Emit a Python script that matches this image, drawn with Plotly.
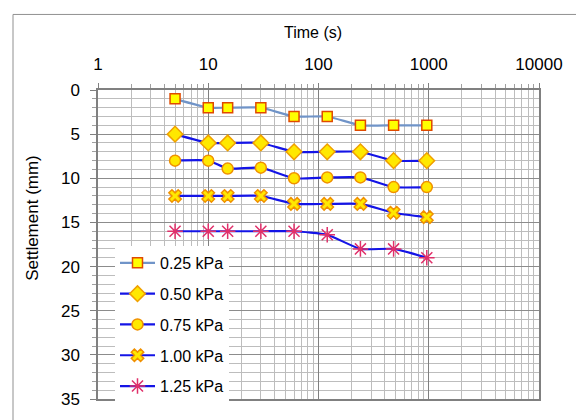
import plotly.graph_objects as go

time_s = [5, 10, 15, 30, 60, 120, 240, 480, 960]
s_025 = [1, 2, 2, 2, 3, 3, 4, 4, 4]
s_050 = [5, 6, 6, 6, 7, 7, 7, 8, 8]
s_075 = [8, 8, 8.9, 8.8, 10, 9.9, 9.9, 11, 11]
s_100 = [12, 12, 12, 12, 12.9, 12.9, 12.9, 13.9, 14.4]
s_125 = [16, 16, 16, 16, 16, 16.4, 18, 18, 19]
names = ["0.25 kPa", "0.50 kPa", "0.75 kPa", "1.00 kPa", "1.25 kPa"]
x_tickvals = [1, 10, 100, 1000, 10000]
x_ticktext = ["1", "10", "100", "1000", "10000"]

series = [s_025, s_050, s_075, s_100, s_125]
line_colors = ["#7094C8", "#1414E6", "#1414E6", "#1414E6", "#1414E6"]
symbols = ["square", "diamond", "circle", "x", "asterisk-open"]
msizes = [10, 12, 11, 11, 13]
mfill = ["#FFFF00", "#FFE800", "#FFE800", "#FFE800", "#E0306A"]
medge = ["#E04A00", "#F0A000", "#F09000", "#F09000", "#E0306A"]

FONT = "Liberation Sans, Arial, sans-serif"
fig = go.Figure()
for i, (ys, nm) in enumerate(zip(series, names)):
    fig.add_trace(go.Scatter(
        x=time_s, y=ys, name=nm, mode="lines+markers",
        legendgroup=nm,
        line=dict(color=line_colors[i], width=2.2, shape="spline", smoothing=0.5),
        marker=dict(symbol=symbols[i], size=msizes[i], color=mfill[i],
                    line=dict(color=medge[i], width=1.5)),
    ))

minor_x = [m * 10 ** d for d in range(0, 4) for m in range(2, 10)]

fig.update_xaxes(
    type="log", side="top", range=[0, 4],
    tickvals=x_tickvals, ticktext=x_ticktext,
    tickfont=dict(family=FONT, size=17, color="#000"),
    ticks="outside", ticklen=5, tickcolor="#808080",
    ticklabelstandoff=6,
    showgrid=True, gridcolor="#808080", gridwidth=1,
    minor=dict(tickvals=minor_x, showgrid=True, gridcolor="#BDBDBD",
               ticks="outside", ticklen=4, tickcolor="#A0A0A0"),
    showline=True, linecolor="#808080", linewidth=1.5, mirror=True,
    zeroline=False,
)
fig.update_yaxes(
    range=[35, 0], dtick=5, tick0=0,
    tickfont=dict(family=FONT, size=17, color="#000"),
    ticks="outside", ticklen=6, tickcolor="#808080",
    ticklabelstandoff=7,
    showgrid=True, gridcolor="#8C8C8C", gridwidth=1,
    minor=dict(dtick=1, showgrid=True, gridcolor="#BDBDBD",
               ticks="outside", ticklen=4, tickcolor="#A0A0A0"),
    showline=True, linecolor="#808080", linewidth=1.5, mirror=True,
    zeroline=False,
)

fig.add_annotation(text="Time (s)", xref="paper", yref="paper",
                   x=(313 - 98) / 441, y=(409 - 31) / 319, showarrow=False,
                   font=dict(family=FONT, size=16, color="#000"),
                   xanchor="center", yanchor="middle")
fig.add_annotation(text="Settlement (mm)", xref="paper", yref="paper",
                   x=(33 - 98) / 441, y=(409 - 222) / 319, showarrow=False,
                   textangle=-90,
                   font=dict(family=FONT, size=17, color="#000"),
                   xanchor="center", yanchor="middle")

fig.add_shape(type="rect", xref="paper", yref="paper",
              x0=(13 - 98) / 441, y0=-0.2, x1=1.2, y1=(409 - 12) / 319,
              line=dict(color="#909090", width=1), fillcolor="rgba(0,0,0,0)",
              layer="below")

fig.update_layout(
    width=576, height=420,
    margin=dict(l=98, r=37, t=90, b=11),
    paper_bgcolor="white", plot_bgcolor="white",
    showlegend=True,
    legend=dict(x=(115 - 98) / 441, y=(409 - 251) / 319,
                xanchor="left", yanchor="top",
                bgcolor="white", borderwidth=0,
                font=dict(family=FONT, size=16, color="#000"),
                tracegroupgap=7, itemwidth=35),
)

fig.write_html("out.html", config={"displayModeBar": False},
               post_script="document.body.style.margin='0';document.body.style.overflow='hidden';")
